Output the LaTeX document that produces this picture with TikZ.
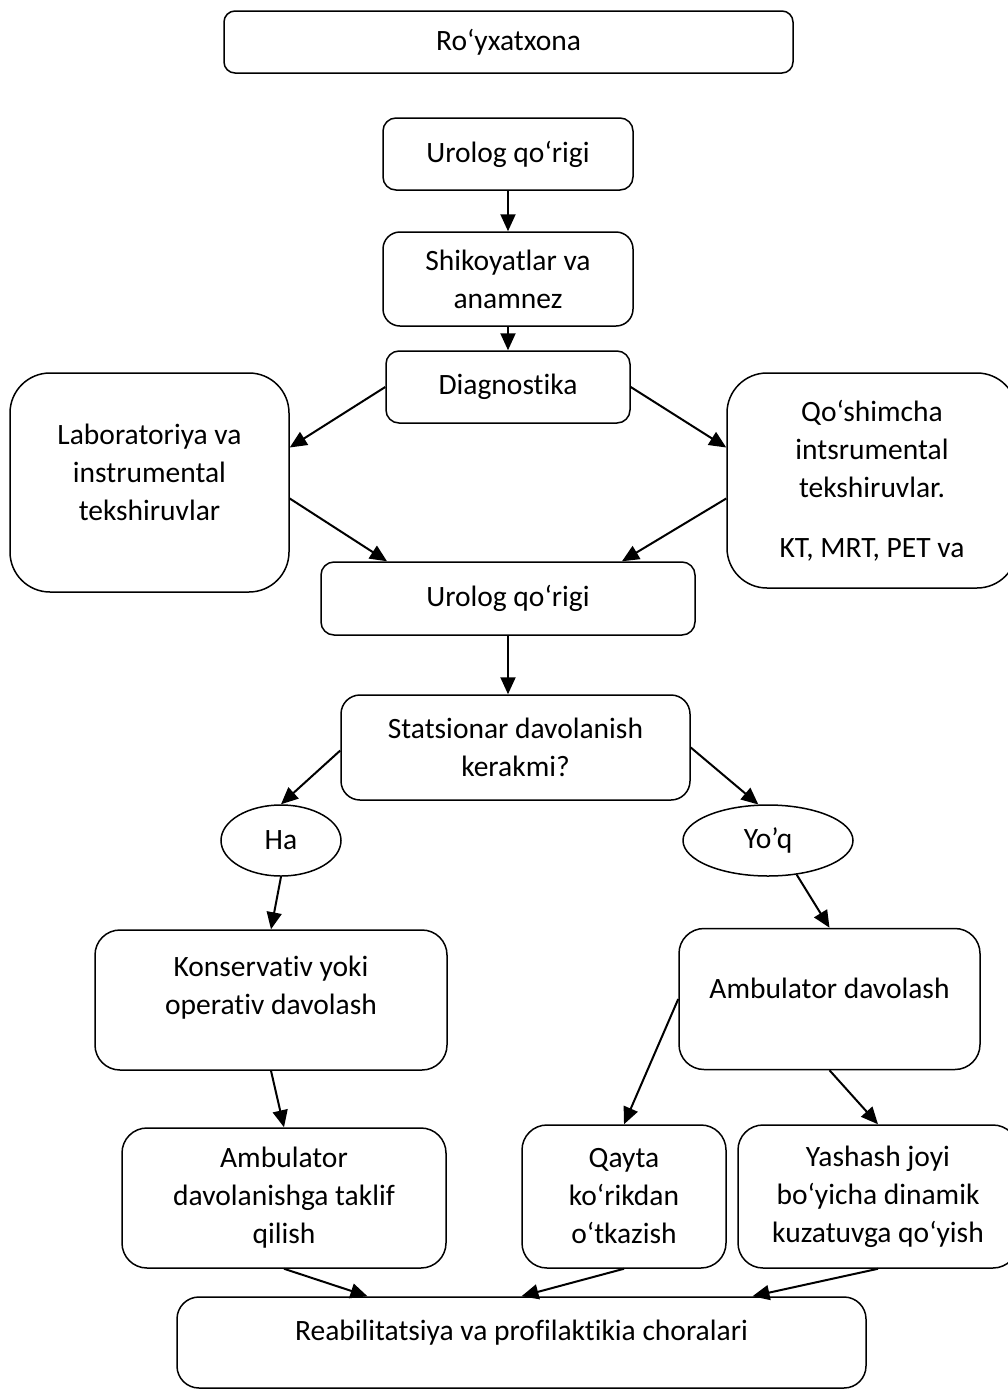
\documentclass[tikz,border=0pt]{standalone}
\usepackage{fontspec}
\setmainfont{Carlito}[Ligatures=NoCommon]
\usetikzlibrary{arrows.meta,shapes.geometric}

\begin{document}
\begin{tikzpicture}[x=1pt,y=-1pt,font=\fontsize{29.5}{38}\selectfont]
    \tikzstyle{box}=[rectangle,draw,line width=1.5pt,align=center,inner sep=0pt]
    \tikzstyle{oval}=[ellipse,draw,line width=1.5pt,inner sep=0pt]
    \tikzstyle{link}=[-{Triangle[length=17pt,width=15pt]},line width=2pt]
    \useasboundingbox (0,0) rectangle (1008,1390);
    \node [box,rounded corners=11pt,minimum width=569pt,minimum height=62pt] (reg) at (508.5,42) {Ro‘yxatxona};
    \node [box,rounded corners=13pt,minimum width=250pt,minimum height=72pt] (uro1) at (508,154) {Urolog qo‘rigi};
    \node [box,rounded corners=17pt,minimum width=250pt,minimum height=94pt] (shik) at (508,279) {Shikoyatlar va\\anamnez};
    \node [box,rounded corners=13pt,minimum width=244pt,minimum height=72pt] (diag) at (508,387) {Diagnostika};
    \node [box,rounded corners=40pt,minimum width=279pt,minimum height=219pt,
           label={[align=center,yshift=10pt]center:Laboratoriya va\\instrumental\\tekshiruvlar}] (lab) at (149.5,482.5) {};
    \node [box,rounded corners=40pt,minimum width=290pt,minimum height=215pt] (qosh) at (872,480.5) {Qo‘shimcha\\intsrumental\\tekshiruvlar.\\[22pt]KT, MRT, PET va};
    \node [box,rounded corners=13pt,minimum width=374pt,minimum height=73pt] (uro2) at (508,598.5) {Urolog qo‘rigi};
    \node [box,rounded corners=19pt,minimum width=349pt,minimum height=105pt] (stat) at (515.5,747.5) {Statsionar davolanish\\kerakmi?};
    \node [oval,minimum width=120pt,minimum height=71pt] (ha) at (281,840.5) {Ha};
    \node [oval,minimum width=170pt,minimum height=71pt] (yoq) at (768,840.5) {Yo’q};
    \node [box,rounded corners=25pt,minimum width=352pt,minimum height=140pt,
           label={[align=center,yshift=12pt]center:Konservativ yoki\\operativ davolash}] (kons) at (271,1000) {};
    \node [box,rounded corners=25pt,minimum width=301pt,minimum height=141pt,
           label={[yshift=11pt]center:Ambulator davolash}] (amb) at (829.5,999) {};
    \node [box,rounded corners=25pt,minimum width=324pt,minimum height=140pt] (taklif) at (284,1198) {Ambulator\\davolanishga taklif\\qilish};
    \node [box,rounded corners=25pt,minimum width=204pt,minimum height=143pt] (qayta) at (624,1196.5) {Qayta\\ko‘rikdan\\o‘tkazish};
    \node [box,rounded corners=25pt,minimum width=280pt,minimum height=143pt] (yash) at (878,1196.5) {Yashash joyi\\bo‘yicha dinamik\\kuzatuvga qo‘yish};
    \node [box,rounded corners=22pt,minimum width=689pt,minimum height=91pt,
           label={[yshift=10pt]center:Reabilitatsiya va profilaktikia choralari}] (reab) at (521.5,1342.5) {};
    \draw [link] (uro1.south) -- (shik.north);
    \draw [link] (shik.south) -- (diag.north);
    \draw [link] (diag.west) -- ([yshift=35pt]lab.east);
    \draw [link] (diag.east) -- ([yshift=33pt]qosh.west);
    \draw [link] ([yshift=-16pt]lab.east) -- ([xshift=-121pt]uro2.north);
    \draw [link] ([yshift=-18pt]qosh.west) -- ([xshift=114pt]uro2.north);
    \draw [link] (uro2.south) -- (uro2.south |- stat.north);
    \draw [link] ([yshift=-3pt]stat.west) -- (ha.north);
    \draw [link] (stat.east) -- (yoq.105);
    \draw [link] (ha.south) -- (kons.north);
    \draw [link] (yoq.-50) -- (amb.north);
    \draw [link] (kons.south) -- (taklif.north);
    \draw [link] (amb.west) -- (qayta.north);
    \draw [link] (amb.south) -- (yash.north);
    \draw [link] (taklif.south) -- ([xshift=-154pt]reab.north);
    \draw [link] (qayta.south) -- (reab.north);
    \draw [link] (yash.south) -- ([xshift=231pt]reab.north);
  \end{tikzpicture}
\end{document}
